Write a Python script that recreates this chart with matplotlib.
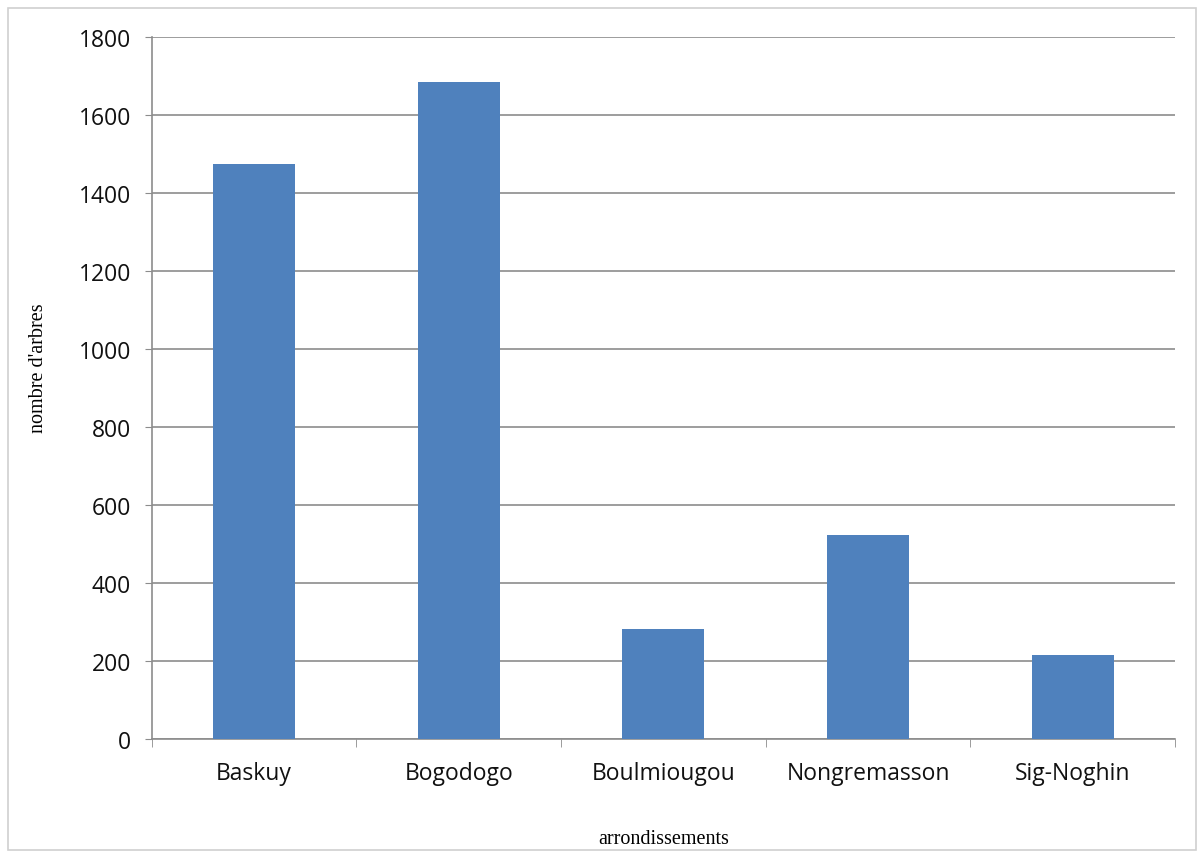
import matplotlib
matplotlib.use("Agg")
import matplotlib.pyplot as plt
import numpy as np
from matplotlib.patches import Rectangle

# data
arrondissements = ["Baskuy", "Bogodogo", "Boulmiougou", "Nongremasson", "Sig-Noghin"]
nombre_arbres = [1474, 1685, 282, 523, 215]
y_ticks = [0, 200, 400, 600, 800, 1000, 1200, 1400, 1600, 1800]

fig = plt.figure(figsize=(12.04, 8.54), dpi=100)
ax = fig.add_axes([0.126, 0.1335, 0.85, 0.822])

# light frame round the chart area
fig.patches.append(Rectangle((0.007, 0.003), 0.986, 0.987, transform=fig.transFigure,
                             fill=False, edgecolor="#d0d0d0", lw=1.2))

x = np.arange(len(arrondissements))
ax.bar(x, nombre_arbres, width=0.4, color="#4F81BD", zorder=3)

ax.set_xlim(-0.5, len(arrondissements) - 0.5)
ax.set_ylim(0, 1800)
ax.set_yticks(y_ticks)
ax.set_yticklabels([str(v) for v in y_ticks], fontsize=16.5, family="Open Sans", color="#111111")
ax.yaxis.grid(True, color="#8c8c8c", lw=1.2, zorder=0)

ax.set_xticks(x)
ax.set_xticklabels(arrondissements, fontsize=16.5, family="Open Sans", color="#111111")
ax.tick_params(axis="x", length=0, pad=16)
ax.set_xticks(np.arange(len(arrondissements) + 1) - 0.5, minor=True)
ax.tick_params(axis="x", which="minor", length=6, color="#8c8c8c", direction="out")
ax.tick_params(axis="y", length=5, color="#8c8c8c", pad=10)

for side in ["top", "right"]:
    ax.spines[side].set_visible(False)
for side in ["left", "bottom"]:
    ax.spines[side].set_color("#8c8c8c")
    ax.spines[side].set_linewidth(1.2)

ax.set_ylabel("nombre d'arbres", family="Liberation Serif", fontsize=14.5)
ax.yaxis.set_label_coords(-0.101, 0.53)
ax.set_xlabel("arrondissements", family="Liberation Serif", fontsize=14.5)
ax.xaxis.set_label_coords(0.5, -0.128)

plt.savefig("out.png", dpi=100)
plt.close()
